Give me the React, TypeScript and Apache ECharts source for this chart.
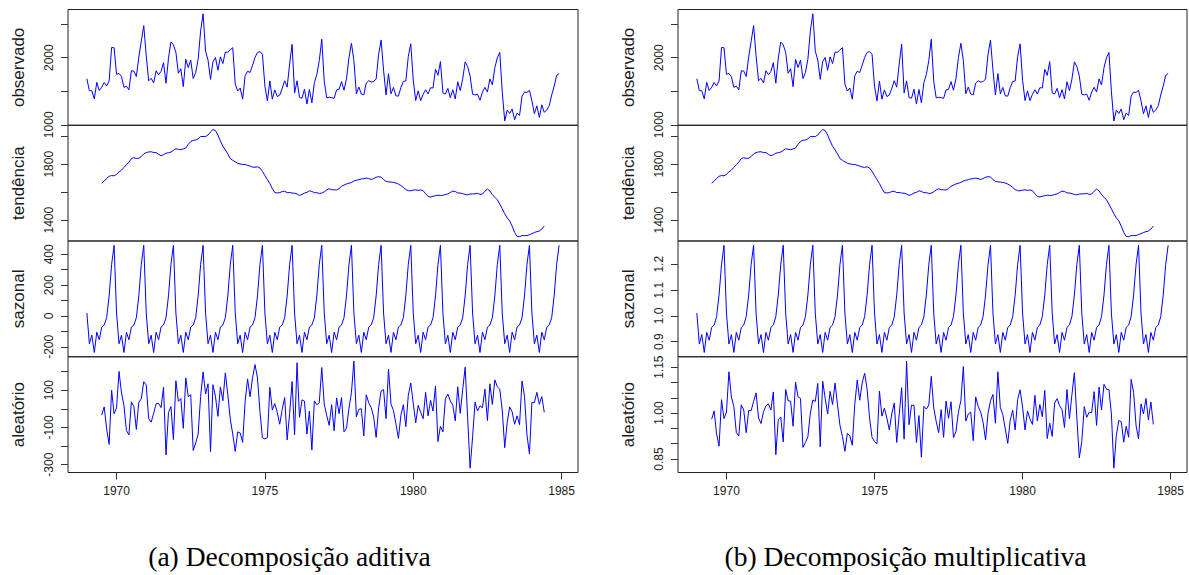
import React, { useEffect, useRef } from "react";
import * as echarts from "echarts";

const START_YEAR = 1969;

const observed = [
  1687, 1508, 1507, 1385, 1632, 1511, 1559, 1630, 1579, 1653, 2152, 2148,
  1752, 1765, 1717, 1558, 1575, 1520, 1805, 1800, 1719, 2008, 2242, 2478,
  2030, 1655, 1693, 1623, 1805, 1746, 1795, 1926, 1619, 1992, 2233, 2192,
  2080, 1768, 1835, 1569, 1976, 1853, 1965, 1689, 1778, 1976, 2397, 2654,
  2097, 1963, 1677, 1941, 2003, 1813, 2012, 1912, 2084, 2080, 2118, 2150,
  1608, 1503, 1548, 1382, 1731, 1798, 1779, 1887, 2004, 2077, 2092, 2051,
  1577, 1356, 1652, 1382, 1519, 1421, 1442, 1543, 1656, 1561, 1905, 2199,
  1473, 1655, 1407, 1395, 1530, 1309, 1526, 1327, 1627, 1748, 1958, 2274,
  1648, 1401, 1411, 1403, 1394, 1520, 1528, 1643, 1515, 1685, 2000, 2215,
  1956, 1462, 1563, 1459, 1446, 1622, 1657, 1638, 1643, 1683, 2050, 2262,
  1813, 1445, 1762, 1461, 1556, 1431, 1427, 1554, 1645, 1653, 2016, 2207,
  1665, 1361, 1506, 1360, 1453, 1522, 1460, 1552, 1548, 1827, 1737, 1941,
  1474, 1458, 1542, 1404, 1522, 1385, 1641, 1510, 1681, 1938, 1868, 1726,
  1456, 1445, 1456, 1365, 1487, 1558, 1488, 1684, 1594, 1850, 1998, 2079,
  1494, 1057, 1218, 1168, 1236, 1076, 1174, 1139, 1427, 1487, 1483, 1513,
  1357, 1165, 1282, 1110, 1297, 1185, 1222, 1284, 1444, 1575, 1737, 1763,
];

const trend: (number | null)[] = [
  null, null, null, null, null, null, 1665, 1679, 1698, 1714, 1719, 1717,
  1728, 1745, 1758, 1778, 1797, 1815, 1840, 1847, 1841, 1843, 1855, 1874,
  1883, 1888, 1889, 1884, 1883, 1871, 1861, 1868, 1879, 1882, 1887, 1899,
  1910, 1907, 1904, 1910, 1916, 1942, 1962, 1971, 1973, 1982, 1998, 1998,
  1998, 2009, 2031, 2048, 2041, 2009, 1967, 1928, 1903, 1874, 1840, 1828,
  1817, 1807, 1802, 1799, 1798, 1792, 1787, 1780, 1778, 1782, 1773, 1749,
  1719, 1691, 1662, 1626, 1597, 1595, 1597, 1605, 1607, 1597, 1598, 1594,
  1593, 1588, 1577, 1584, 1594, 1599, 1610, 1606, 1596, 1597, 1591, 1594,
  1603, 1616, 1625, 1618, 1617, 1616, 1626, 1642, 1651, 1659, 1664, 1670,
  1680, 1685, 1690, 1695, 1697, 1701, 1697, 1691, 1698, 1707, 1711, 1708,
  1691, 1677, 1674, 1673, 1670, 1666, 1658, 1648, 1634, 1619, 1611, 1610,
  1615, 1617, 1613, 1616, 1611, 1589, 1570, 1566, 1571, 1575, 1579, 1577,
  1578, 1584, 1588, 1598, 1608, 1605, 1595, 1594, 1590, 1584, 1581, 1587,
  1588, 1589, 1592, 1585, 1587, 1607, 1623, 1609, 1583, 1564, 1546, 1515,
  1482, 1446, 1417, 1395, 1358, 1313, 1284, 1282, 1290, 1290, 1290, 1297,
  1304, 1312, 1318, 1323, 1337, 1358, null, null, null, null, null, null,
];

const seasonalAdd = [
  19.6, -179.9, -124.5, -236.5, -105.2, -154.3, -72.0, -58.4, -11.2, 130.1, 333.9, 458.4,
  19.6, -179.9, -124.5, -236.5, -105.2, -154.3, -72.0, -58.4, -11.2, 130.1, 333.9, 458.4,
  19.6, -179.9, -124.5, -236.5, -105.2, -154.3, -72.0, -58.4, -11.2, 130.1, 333.9, 458.4,
  19.6, -179.9, -124.5, -236.5, -105.2, -154.3, -72.0, -58.4, -11.2, 130.1, 333.9, 458.4,
  19.6, -179.9, -124.5, -236.5, -105.2, -154.3, -72.0, -58.4, -11.2, 130.1, 333.9, 458.4,
  19.6, -179.9, -124.5, -236.5, -105.2, -154.3, -72.0, -58.4, -11.2, 130.1, 333.9, 458.4,
  19.6, -179.9, -124.5, -236.5, -105.2, -154.3, -72.0, -58.4, -11.2, 130.1, 333.9, 458.4,
  19.6, -179.9, -124.5, -236.5, -105.2, -154.3, -72.0, -58.4, -11.2, 130.1, 333.9, 458.4,
  19.6, -179.9, -124.5, -236.5, -105.2, -154.3, -72.0, -58.4, -11.2, 130.1, 333.9, 458.4,
  19.6, -179.9, -124.5, -236.5, -105.2, -154.3, -72.0, -58.4, -11.2, 130.1, 333.9, 458.4,
  19.6, -179.9, -124.5, -236.5, -105.2, -154.3, -72.0, -58.4, -11.2, 130.1, 333.9, 458.4,
  19.6, -179.9, -124.5, -236.5, -105.2, -154.3, -72.0, -58.4, -11.2, 130.1, 333.9, 458.4,
  19.6, -179.9, -124.5, -236.5, -105.2, -154.3, -72.0, -58.4, -11.2, 130.1, 333.9, 458.4,
  19.6, -179.9, -124.5, -236.5, -105.2, -154.3, -72.0, -58.4, -11.2, 130.1, 333.9, 458.4,
  19.6, -179.9, -124.5, -236.5, -105.2, -154.3, -72.0, -58.4, -11.2, 130.1, 333.9, 458.4,
  19.6, -179.9, -124.5, -236.5, -105.2, -154.3, -72.0, -58.4, -11.2, 130.1, 333.9, 458.4,
];

const randomAdd: (number | null)[] = [
  null, null, null, null, null, null, -34, 10, -108, -191, 99, -27,
  5, 200, 84, 16, -117, -140, 37, 12, -111, 35, 53, 145,
  127, -53, -72, -25, 27, 29, 6, 116, -248, -20, 12, -165,
  150, 40, 55, -105, 165, 65, 75, -224, -184, -136, 65, 198,
  79, 134, -230, 129, 67, -41, 117, 43, 192, 75, -56, -136,
  -229, -124, -130, -180, 38, 160, 64, 166, 237, 165, -15, -156,
  -162, -155, 115, -7, 28, -20, -83, -3, 60, -167, -27, 146,
  -140, 247, -46, 48, 41, -136, -12, -221, 42, 21, 33, 221,
  25, -36, -89, 22, -118, 58, -26, 60, -124, -104, 2, 86,
  256, -43, -3, 0, -146, 75, 32, 6, -44, -154, 5, 96,
  103, -53, 213, 25, -9, -81, -159, -36, 22, -96, 71, 138,
  30, -76, 18, -19, -53, 88, -38, 45, -12, 122, -176, -94,
  -124, 54, 79, 42, 19, -65, 118, -25, 103, 223, -47, -319,
  -152, 36, -12, 16, 5, 105, -63, 134, 23, 155, 118, 105,
  -8, -209, -74, 10, -17, -83, -38, -85, 149, 67, -141, -242,
  34, 33, 88, 24, 65, -19, null, null, null, null, null, null,
];

const seasonalMult = [
  1.0109, 0.891, 0.9276, 0.8583, 0.9362, 0.9057, 0.9553, 0.9647, 0.9972, 1.0806, 1.199, 1.2736,
  1.0109, 0.891, 0.9276, 0.8583, 0.9362, 0.9057, 0.9553, 0.9647, 0.9972, 1.0806, 1.199, 1.2736,
  1.0109, 0.891, 0.9276, 0.8583, 0.9362, 0.9057, 0.9553, 0.9647, 0.9972, 1.0806, 1.199, 1.2736,
  1.0109, 0.891, 0.9276, 0.8583, 0.9362, 0.9057, 0.9553, 0.9647, 0.9972, 1.0806, 1.199, 1.2736,
  1.0109, 0.891, 0.9276, 0.8583, 0.9362, 0.9057, 0.9553, 0.9647, 0.9972, 1.0806, 1.199, 1.2736,
  1.0109, 0.891, 0.9276, 0.8583, 0.9362, 0.9057, 0.9553, 0.9647, 0.9972, 1.0806, 1.199, 1.2736,
  1.0109, 0.891, 0.9276, 0.8583, 0.9362, 0.9057, 0.9553, 0.9647, 0.9972, 1.0806, 1.199, 1.2736,
  1.0109, 0.891, 0.9276, 0.8583, 0.9362, 0.9057, 0.9553, 0.9647, 0.9972, 1.0806, 1.199, 1.2736,
  1.0109, 0.891, 0.9276, 0.8583, 0.9362, 0.9057, 0.9553, 0.9647, 0.9972, 1.0806, 1.199, 1.2736,
  1.0109, 0.891, 0.9276, 0.8583, 0.9362, 0.9057, 0.9553, 0.9647, 0.9972, 1.0806, 1.199, 1.2736,
  1.0109, 0.891, 0.9276, 0.8583, 0.9362, 0.9057, 0.9553, 0.9647, 0.9972, 1.0806, 1.199, 1.2736,
  1.0109, 0.891, 0.9276, 0.8583, 0.9362, 0.9057, 0.9553, 0.9647, 0.9972, 1.0806, 1.199, 1.2736,
  1.0109, 0.891, 0.9276, 0.8583, 0.9362, 0.9057, 0.9553, 0.9647, 0.9972, 1.0806, 1.199, 1.2736,
  1.0109, 0.891, 0.9276, 0.8583, 0.9362, 0.9057, 0.9553, 0.9647, 0.9972, 1.0806, 1.199, 1.2736,
  1.0109, 0.891, 0.9276, 0.8583, 0.9362, 0.9057, 0.9553, 0.9647, 0.9972, 1.0806, 1.199, 1.2736,
  1.0109, 0.891, 0.9276, 0.8583, 0.9362, 0.9057, 0.9553, 0.9647, 0.9972, 1.0806, 1.199, 1.2736,
];

const randomMult: (number | null)[] = [
  null, null, null, null, null, null, 0.980, 1.007, 0.932, 0.892, 1.044, 0.982,
  1.003, 1.135, 1.053, 1.021, 0.936, 0.925, 1.027, 1.010, 0.936, 1.008, 1.008, 1.038,
  1.066, 0.984, 0.966, 1.004, 1.024, 1.030, 1.010, 1.069, 0.864, 0.979, 0.987, 0.906,
  1.077, 1.040, 1.039, 0.957, 1.101, 1.053, 1.048, 0.888, 0.904, 0.923, 1.000, 1.043,
  1.038, 1.097, 0.890, 1.104, 1.048, 0.997, 1.071, 1.028, 1.098, 1.027, 0.960, 0.924,
  0.875, 0.934, 0.926, 0.895, 1.029, 1.108, 1.042, 1.099, 1.130, 1.078, 0.984, 0.921,
  0.907, 0.900, 1.072, 0.990, 1.016, 0.984, 0.945, 0.997, 1.033, 0.904, 0.994, 1.083,
  0.915, 1.170, 0.962, 1.026, 1.025, 0.904, 0.992, 0.856, 1.022, 1.013, 1.026, 1.120,
  1.017, 0.973, 0.936, 1.011, 0.921, 1.039, 0.983, 1.037, 0.920, 0.940, 1.003, 1.041,
  1.152, 0.974, 0.997, 1.003, 0.910, 1.053, 1.022, 1.004, 0.970, 0.912, 0.999, 1.040,
  1.061, 0.967, 1.135, 1.018, 0.995, 0.948, 0.901, 0.977, 1.009, 0.945, 1.044, 1.076,
  1.020, 0.945, 1.007, 0.981, 0.963, 1.058, 0.974, 1.028, 0.988, 1.074, 0.917, 0.967,
  0.924, 1.033, 1.047, 1.024, 1.011, 0.953, 1.077, 0.982, 1.060, 1.132, 0.985, 0.854,
  0.907, 1.021, 0.986, 1.003, 1.001, 1.070, 0.960, 1.085, 1.010, 1.094, 1.078, 1.077,
  0.997, 0.820, 0.927, 0.976, 0.972, 0.905, 0.957, 0.921, 1.110, 1.067, 0.959, 0.916,
  1.030, 0.997, 1.048, 0.978, 1.036, 0.963, null, null, null, null, null, null,
];

const panelNames = ["observado", "tendência", "sazonal", "aleatório"];
const captions = ["(a) Decomposição aditiva", "(b) Decomposição multiplicativa"];
const xTicks = [1970, 1975, 1980, 1985];

const obsTicks = [1000, 1500, 2000, 2500];
const obsLabels = [1000, 2000];
const trendTicks = [1400, 1600, 1800, 2000];
const trendLabels = [1400, 1800];
const seasAddTicks = [-200, -100, 0, 100, 200, 300, 400];
const seasAddLabels = [-200, 0, 200, 400];
const randAddTicks = [-300, -200, -100, 0, 100, 200];
const randAddLabels = [-300, -100, 100];
const seasMultTicks = [0.9, 1.0, 1.1, 1.2];
const seasMultLabels = [0.9, 1.0, 1.1, 1.2];
const randMultTicks = [0.85, 0.9, 0.95, 1.0, 1.05, 1.1, 1.15];
const randMultLabels = [0.85, 1.0, 1.15];

// R-style axis limits: data range extended 4% on each side
function rLimits(vals: (number | null)[]): [number, number] {
  const v = vals.filter((x) => x != null) as number[];
  const lo = Math.min(...v);
  const hi = Math.max(...v);
  const d = (hi - lo) * 0.04;
  return [lo - d, hi + d];
}

const FONT = "Liberation Sans, Arial, sans-serif";
const INK = "#1a1a1a";

function buildOption() {
  const panels = [
    { left: 68, width: 510 },
    { left: 678, width: 509 },
  ];
  const top0 = 9.5;
  const h = 115.75;
  const nObs = observed.length;
  const xMin = START_YEAR - (nObs - 1) / 12 * 0.04;
  const xMax = START_YEAR + (nObs - 1) / 12 * 1.04;

  const rows = [
    [
      { data: observed, ticks: obsTicks, labels: obsLabels, fmt: (v: number) => String(v) },
      { data: trend, ticks: trendTicks, labels: trendLabels, fmt: (v: number) => String(v) },
      { data: seasonalAdd, ticks: seasAddTicks, labels: seasAddLabels, fmt: (v: number) => String(v) },
      { data: randomAdd, ticks: randAddTicks, labels: randAddLabels, fmt: (v: number) => String(v) },
    ],
    [
      { data: observed, ticks: obsTicks, labels: obsLabels, fmt: (v: number) => String(v) },
      { data: trend, ticks: trendTicks, labels: trendLabels, fmt: (v: number) => String(v) },
      { data: seasonalMult, ticks: seasMultTicks, labels: seasMultLabels, fmt: (v: number) => v.toFixed(1) },
      { data: randomMult, ticks: randMultTicks, labels: randMultLabels, fmt: (v: number) => v.toFixed(2) },
    ],
  ];

  const grid: any[] = [];
  const xAxis: any[] = [];
  const yAxis: any[] = [];
  const series: any[] = [];

  panels.forEach((p, pi) => {
    rows[pi].forEach((r, ri) => {
      const g = grid.length;
      grid.push({
        left: p.left,
        width: p.width,
        top: top0 + ri * h,
        height: h,
        show: true,
        borderColor: "#222",
        borderWidth: 1,
        backgroundColor: "transparent",
        containLabel: false,
        outerBoundsMode: "none",
      });
      const isBottom = ri === 3;
      xAxis.push({
        type: "value",
        gridIndex: g,
        min: xMin,
        max: xMax,
        show: isBottom,
        position: "bottom",
        splitLine: { show: false },
        axisLine: { show: false, onZero: false },
        axisTick: { show: true, length: 7, lineStyle: { color: "#333" }, customValues: xTicks },
        axisLabel: {
          show: true,
          margin: 12,
          fontSize: 12,
          fontFamily: FONT,
          color: INK,
          customValues: xTicks,
          formatter: (v: number) => String(v),
        },
      });
      const [lo, hi] = rLimits(r.data);
      yAxis.push({
        type: "value",
        gridIndex: g,
        min: lo,
        max: hi,
        position: "left",
        name: panelNames[ri],
        nameLocation: "middle",
        nameGap: 41,
        nameRotate: 90,
        nameTextStyle: { fontSize: 17, fontFamily: FONT, color: INK },
        splitLine: { show: false },
        axisLine: { show: false, onZero: false },
        axisTick: { show: true, length: 7, lineStyle: { color: "#333" }, customValues: r.ticks },
        axisLabel: {
          show: true,
          rotate: 90,
          margin: 13,
          fontSize: 12,
          fontFamily: FONT,
          color: INK,
          customValues: r.labels,
          formatter: r.fmt,
        },
      });
      series.push({
        type: "line",
        xAxisIndex: g,
        yAxisIndex: g,
        data: r.data.map((v, i) => [START_YEAR + i / 12, v]),
        showSymbol: false,
        symbol: "none",
        connectNulls: false,
        lineStyle: { color: "#0000ff", width: 1 },
        itemStyle: { color: "#0000ff" },
        silent: true,
      });
    });
  });

  const captionStyle = {
    fontSize: 27.5,
    fontFamily: "Liberation Serif, serif",
    fill: "#000",
    align: "center",
    verticalAlign: "middle",
  };
  const graphic = [
    { type: "text", x: 289.5, y: 556, style: { ...captionStyle, text: captions[0] } },
    { type: "text", x: 905.5, y: 556, style: { ...captionStyle, text: captions[1] } },
  ];

  return {
    animation: false,
    backgroundColor: "#ffffff",
    grid,
    xAxis,
    yAxis,
    series,
    graphic,
  };
}

export default function App() {
  const ref = useRef<HTMLDivElement>(null);
  useEffect(() => {
    if (!ref.current) return;
    const chart = echarts.init(ref.current, null, { renderer: "svg" });
    chart.setOption(buildOption() as any);
    return () => chart.dispose();
  }, []);
  return (
    <div
      ref={ref}
      style={{ position: "fixed", left: 0, top: 0, width: 1189, height: 575, background: "#fff" }}
    />
  );
}
